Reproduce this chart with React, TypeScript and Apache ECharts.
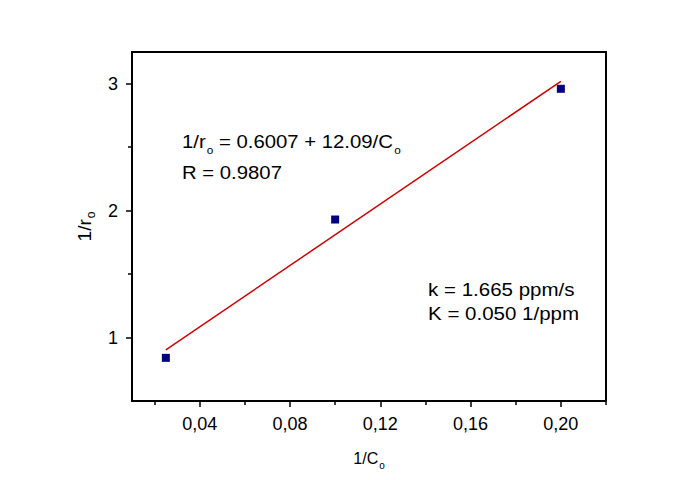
import React, { useEffect, useRef } from "react";
import * as echarts from "echarts";

const pointX = [0.025, 0.1, 0.2];
const pointY = [0.84, 1.93, 2.96];
const fitX = [0.025, 0.2];
const fitY = [0.903, 3.019];
const xLabelTicks = [0.04, 0.08, 0.12, 0.16, 0.2];
const xMinorTicks = [0.02, 0.06, 0.1, 0.14, 0.18, 0.22];
const yLabelTicks = [1, 2, 3];
const yMinorTicks = [1.5, 2.5];

const FONT = "Liberation Sans, Arial, sans-serif";

export default function App() {
  const ref = useRef<HTMLDivElement>(null);
  useEffect(() => {
    if (!ref.current) return;
    const chart = echarts.init(ref.current, null, { renderer: "svg" });
    const rich = {
      n: { fontSize: 19, fontFamily: FONT, color: "#000", lineHeight: 24 },
      s: { fontSize: 11, fontFamily: FONT, color: "#000", verticalAlign: "bottom", lineHeight: 12, padding: [0, 0, -2, 1] },
    };
    const xRich = {
      n: { fontSize: 16, fontFamily: FONT, color: "#000", lineHeight: 20 },
      s: { fontSize: 10, fontFamily: FONT, color: "#000", verticalAlign: "bottom", lineHeight: 10, padding: [0, 0, -2, 1] },
    };
    const yRich = {
      n: { fontSize: 19, fontFamily: FONT, color: "#000", lineHeight: 22 },
      s: { fontSize: 12, fontFamily: FONT, color: "#000", verticalAlign: "bottom", lineHeight: 11, padding: [0, 0, -2, 1] },
    };
    const xCommon = { type: "value", min: 0.01, max: 0.22, splitLine: { show: false } };
    const yCommon = { type: "value", min: 0.5, max: 3.25, splitLine: { show: false } };
    chart.setOption({
      animation: false,
      backgroundColor: "#fff",
      grid: { left: 132, top: 52, right: 83, bottom: 79, show: true, borderColor: "#000", borderWidth: 2, backgroundColor: "#fff" },
      xAxis: [
        {
          ...xCommon,
          position: "bottom",
          axisLine: { show: true, onZero: false, lineStyle: { color: "#000", width: 2 } },
          axisTick: { show: true, customValues: xLabelTicks, length: 6, lineStyle: { color: "#000", width: 1.5 } },
          axisLabel: {
            customValues: xLabelTicks,
            margin: 14,
            fontSize: 18,
            fontFamily: FONT,
            color: "#000",
            formatter: (v: number) => v.toFixed(2).replace(".", ","),
          },
          name: "{n|1/C}{s|o}",
          nameLocation: "middle",
          nameGap: 47,
          nameTextStyle: { rich: xRich },
        },
        {
          ...xCommon,
          position: "bottom",
          axisLine: { show: false },
          axisTick: { show: true, customValues: xMinorTicks, length: 4, lineStyle: { color: "#000", width: 1.5 } },
          axisLabel: { show: false },
        },
      ],
      yAxis: [
        {
          ...yCommon,
          position: "left",
          axisLine: { show: true, onZero: false, lineStyle: { color: "#000", width: 2 } },
          axisTick: { show: true, customValues: yLabelTicks, length: 6, lineStyle: { color: "#000", width: 1.5 } },
          axisLabel: {
            customValues: yLabelTicks,
            margin: 14,
            fontSize: 18,
            fontFamily: FONT,
            color: "#000",
          },
          name: "{n|1/r}{s|o}",
          nameLocation: "middle",
          nameGap: 33,
          nameRotate: 90,
          nameTextStyle: { rich: yRich },
        },
        {
          ...yCommon,
          position: "left",
          axisLine: { show: false },
          axisTick: { show: true, customValues: yMinorTicks, length: 4, lineStyle: { color: "#000", width: 1.5 } },
          axisLabel: { show: false },
        },
      ],
      series: [
        {
          type: "line",
          xAxisIndex: 0,
          yAxisIndex: 0,
          data: fitX.map((x, i) => [x, fitY[i]]),
          showSymbol: false,
          symbol: "none",
          lineStyle: { color: "#d40000", width: 1.5 },
          z: 2,
        },
        {
          type: "scatter",
          xAxisIndex: 0,
          yAxisIndex: 0,
          data: pointX.map((x, i) => [x, pointY[i]]),
          symbol: "rect",
          symbolSize: 8,
          itemStyle: { color: "#000080", opacity: 1 },
          z: 3,
        },
      ],
      graphic: [
        {
          type: "text",
          left: 182,
          top: 132,
          scaleX: 1.07,
          style: { text: "{n|1/r}{s|o}{n| = 0.6007 + 12.09/C}{s|o}", rich },
        },
        {
          type: "text",
          left: 182,
          top: 163,
          scaleX: 1.07,
          style: { text: "{n|R = 0.9807}", rich },
        },
        {
          type: "text",
          left: 428,
          top: 280,
          scaleX: 1.08,
          style: { text: "{n|k = 1.665 ppm/s}", rich },
        },
        {
          type: "text",
          left: 428,
          top: 304,
          scaleX: 1.08,
          style: { text: "{n|K = 0.050 1/ppm}", rich },
        },
      ],
    });
    return () => chart.dispose();
  }, []);
  return <div ref={ref} style={{ position: "fixed", left: 0, top: 0, width: 689, height: 480 }} />;
}
